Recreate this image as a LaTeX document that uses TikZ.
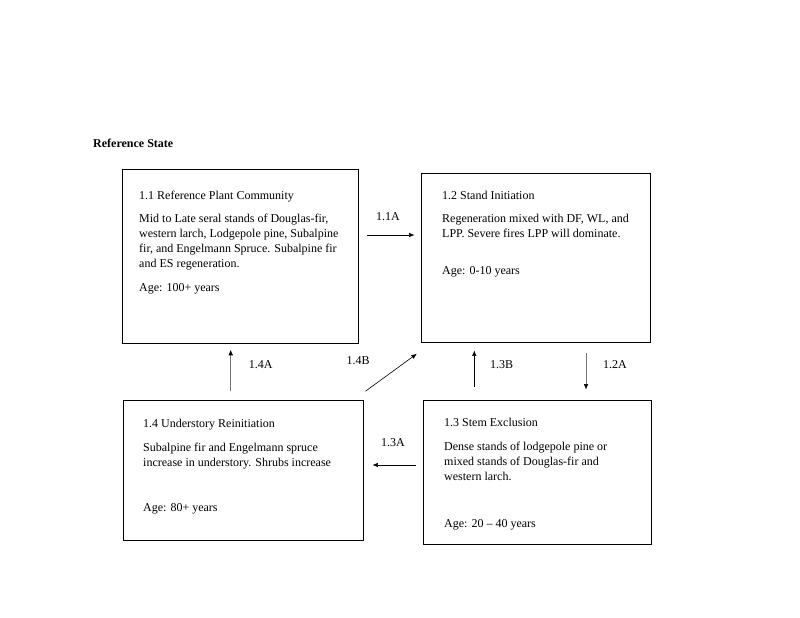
\documentclass[tikz,border=0pt]{standalone}
\usepackage{fontspec}
\setmainfont{Liberation Serif}
\usetikzlibrary{arrows.meta}
\tikzset{
	statebox/.style={draw, line width=0.9pt, inner sep=0pt},
	statetext/.style={anchor=base west, align=left, inner sep=0pt, font=\fontsize{12}{15}\selectfont},
	trans/.style={line width=0.6pt, -{Latex[length=5.5pt, width=4.5pt]}},
	transgray/.style={trans, draw=black!55, -{Latex[length=5.5pt, width=4.5pt, black]}},
	translabel/.style={inner sep=0pt, font=\fontsize{12}{15}\selectfont}
}

\begin{document}
\begin{tikzpicture}[x=1pt, y=-1pt]
		%%%%% START %%%%%
		
		\useasboundingbox[fill=white] (0, 0) rectangle (800, 618);
		
		\node[statetext, font=\bfseries\fontsize{12}{15}\selectfont] (refstate) at (93, 147) {Reference State};
		
		% multi-line texts sit on the baseline of their last line
		\node[statebox, minimum width=236pt, minimum height=174pt] (b11) at (240, 256) {};
		\node[statetext] (b11title) at (139, 199) {1.1 Reference Plant Community};
		\node[statetext] (b11body) at (139, 267) {Mid to Late seral stands of Douglas-fir,\\western larch, Lodgepole pine, Subalpine\\fir, and Engelmann Spruce. Subalpine fir\\and ES regeneration.};
		\node[statetext] (b11age) at (139, 291) {Age: 100+ years};
		
		\node[statebox, minimum width=229pt, minimum height=169pt] (b12) at (535.5, 257.5) {};
		\node[statetext] (b12title) at (442, 199) {1.2 Stand Initiation};
		\node[statetext] (b12body) at (442, 237) {Regeneration mixed with DF, WL, and\\LPP. Severe fires LPP will dominate.};
		\node[statetext] (b12age) at (442, 274) {Age: 0-10 years};
		
		\node[statebox, minimum width=228pt, minimum height=144pt] (b13) at (537, 472) {};
		\node[statetext] (b13title) at (444, 426) {1.3 Stem Exclusion};
		\node[statetext] (b13body) at (444, 480) {Dense stands of lodgepole pine or\\mixed stands of Douglas-fir and\\western larch.};
		\node[statetext] (b13age) at (444, 527) {Age: 20 -- 40 years};
		
		\node[statebox, minimum width=240pt, minimum height=140pt] (b14) at (243, 470) {};
		\node[statetext] (b14title) at (143, 427) {1.4 Understory Reinitiation};
		\node[statetext] (b14body) at (143, 466) {Subalpine fir and Engelmann spruce\\increase in understory. Shrubs increase};
		\node[statetext] (b14age) at (143, 511) {Age: 80+ years};
		
		\draw[trans, shorten <=8.7pt, shorten >=6pt] ([yshift=21pt]b11.east) -- ([yshift=22.5pt]b12.west);
		\node[translabel] (l11a) at (388, 217) {1.1A};
		
		\draw[transgray, shorten <=10.7pt, shorten >=10pt] ([xshift=50.5pt]b12.south) -- ([xshift=49pt]b13.north);
		\node[translabel] (l12a) at (615, 365) {1.2A};
		
		\draw[trans, shorten <=13pt, shorten >=8pt] ([xshift=-62.7pt]b13.north) -- ([xshift=-61.2pt]b12.south);
		\node[translabel] (l13b) at (501.7, 365) {1.3B};
		
		\draw[trans, shorten <=7pt, shorten >=9pt] ([yshift=7pt]b13.west) -- ([yshift=5pt]b14.east);
		\node[translabel] (l13a) at (393, 443) {1.3A};
		
		\draw[transgray, shorten <=8.3pt, shorten >=6.3pt] ([xshift=-12.3pt]b14.north) -- ([xshift=-9.3pt]b11.south);
		\node[translabel] (l14a) at (260.7, 365) {1.4A};
		
		\draw[trans] ([xshift=2pt, yshift=8.3pt]b14.north east) -- ([xshift=-3.7pt, yshift=-11.3pt]b12.south west);
		\node[translabel] (l14b) at (358, 360.7) {1.4B};
		
		%%%%% END %%%%%
\end{tikzpicture}
\end{document}
